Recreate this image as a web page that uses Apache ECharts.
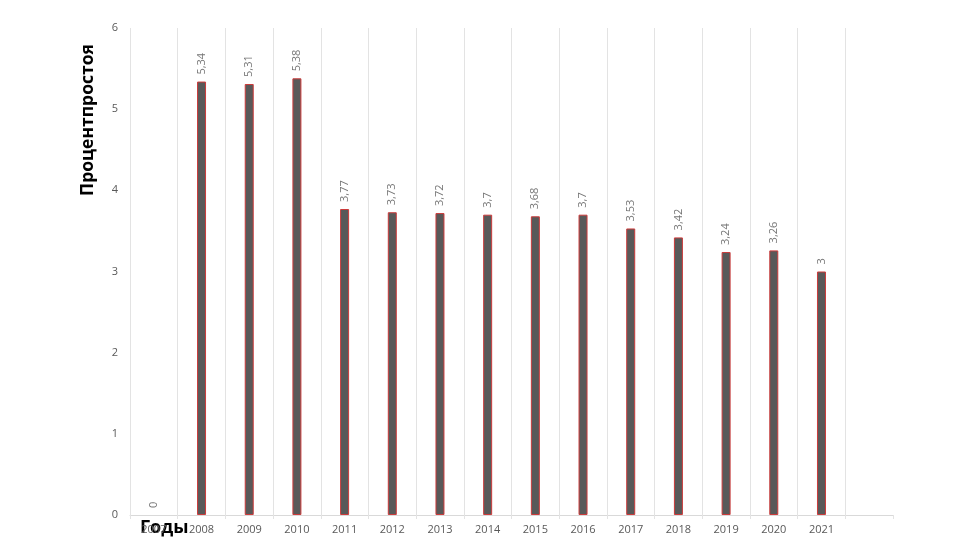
<!DOCTYPE html>
<html><head><meta charset="utf-8">
<script src="https://cdn.jsdelivr.net/npm/echarts@6/dist/echarts.min.js"></script>
<style>html,body{margin:0;padding:0;background:#fff}#c{width:978px;height:552px}</style>
</head><body><div id="c"></div>
<script>
const categories = ['2007','2008','2009','2010','2011','2012','2013','2014','2015','2016','2017','2018','2019','2020','2021',''];
const values = [0,5.34,5.31,5.38,3.77,3.73,3.72,3.7,3.68,3.7,3.53,3.42,3.24,3.26,3,null];
const yTicks = [0,1,2,3,4,5,6];
const xTitle = 'Годы';
const yTitle = 'Процентпростоя';

const chart = echarts.init(document.getElementById('c'), null, {renderer:'canvas'});
const font = '"Open Sans", "Noto Sans", sans-serif';
const splitColors = categories.map(()=>'#e3e3e3').concat(['rgba(0,0,0,0)']);
chart.setOption({
  animation:false,
  grid:{left:130,right:85,top:28,bottom:37,containLabel:false},
  xAxis:{
    type:'category',data:categories,boundaryGap:true,
    axisLine:{lineStyle:{color:'#d9d9d9',width:1}},
    axisTick:{show:true,length:4,lineStyle:{color:'#e3e3e3'},interval:0},
    axisLabel:{color:'#595959',fontSize:11,fontFamily:font,margin:9,interval:0},
    splitLine:{show:true,lineStyle:{color:splitColors,width:1},interval:0}
  },
  yAxis:{
    type:'value',min:yTicks[0],max:yTicks[yTicks.length-1],interval:1,
    axisLine:{show:false},axisTick:{show:false},
    axisLabel:{color:'#595959',fontSize:11,fontFamily:font,margin:12},
    splitLine:{show:false}
  },
  series:[{
    type:'bar',
    data:values.map(v=>v===0?{value:v,itemStyle:{borderWidth:0}}:v),
    barWidth:9,
    itemStyle:{color:'#595959',borderColor:'#cc3b3b',borderWidth:1},
    label:{show:true,position:'top',rotate:90,align:'left',verticalAlign:'middle',distance:7,
      color:'#757575',fontSize:11,fontFamily:font,
      formatter:p=>p.value==null?'':String(p.value).replace('.',',')}
  }],
  graphic:[
    {type:'text',left:140,top:519,style:{text:xTitle,fontSize:18,fontWeight:'bold',fontFamily:font,fill:'#000'}},
    {type:'text',x:88,y:120,rotation:Math.PI/2,style:{text:yTitle,fontSize:17.5,fontWeight:'bold',fontFamily:font,fill:'#000',textAlign:'center',textVerticalAlign:'middle'}}
  ]
});
</script></body></html>
